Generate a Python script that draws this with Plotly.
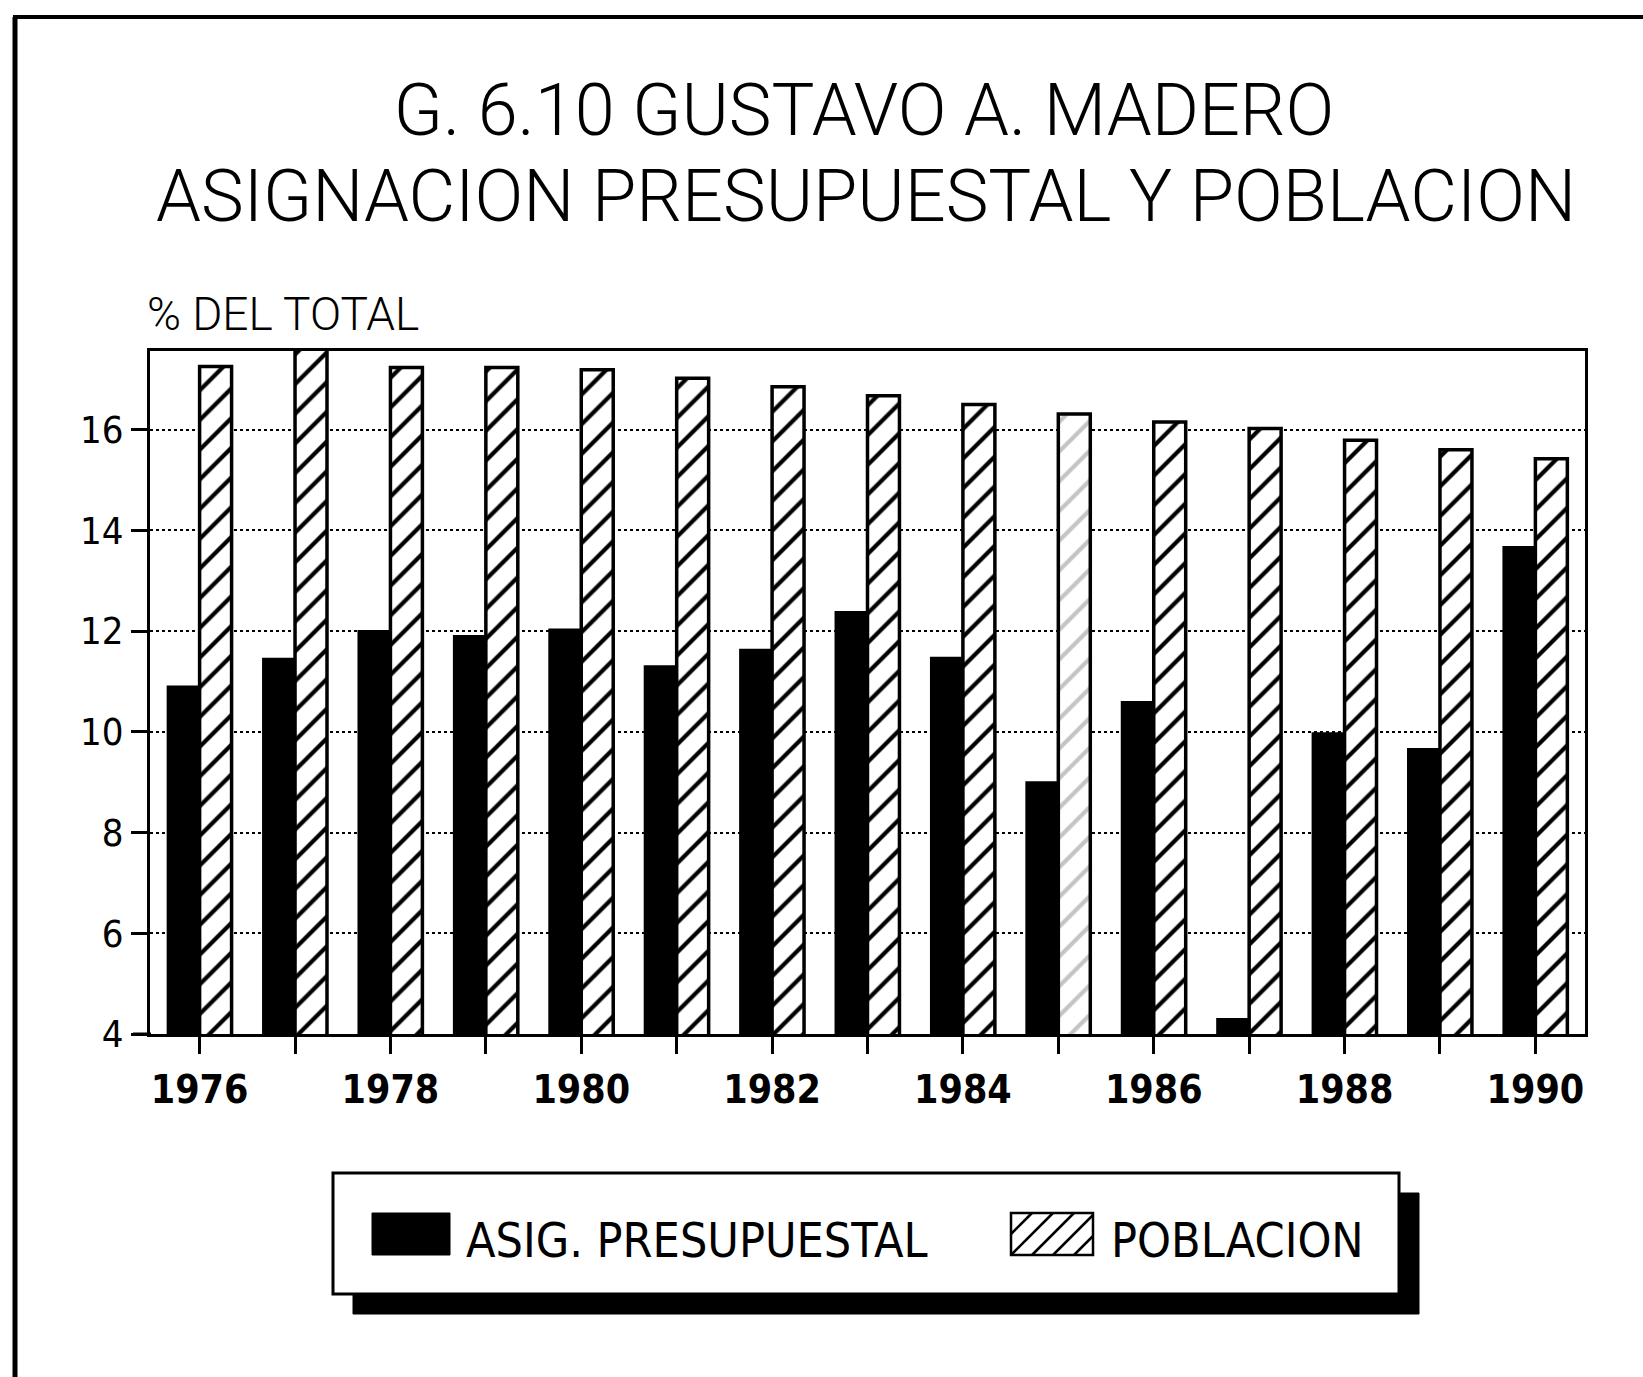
import plotly.graph_objects as go

# ---- data ----
years = [1976, 1977, 1978, 1979, 1980, 1981, 1982, 1983, 1984, 1985, 1986, 1987, 1988, 1989, 1990]
asig_presupuestal = [10.9, 11.45, 12.0, 11.9, 12.03, 11.3, 11.63, 12.38, 11.47, 9.0, 10.59, 4.3, 9.97, 9.66, 13.67]
poblacion = [17.25, 17.6, 17.23, 17.23, 17.19, 17.02, 16.85, 16.67, 16.5, 16.31, 16.15, 16.02, 15.79, 15.6, 15.42]
x_tick_labels = ["1976", "", "1978", "", "1980", "", "1982", "", "1984", "", "1986", "", "1988", "", "1990"]
y_ticks = [4, 6, 8, 10, 12, 14, 16]

title_line1 = "G. 6.10 GUSTAVO A. MADERO"
title_line2 = "ASIGNACION PRESUPUESTAL Y POBLACION"
y_title = "% DEL TOTAL"
series_names = ["ASIG. PRESUPUESTAL", "POBLACION"]

# ---- layout geometry (pixels) ----
W, H = 1643, 1377
PL, PR, PT, PB = 150, 1585, 351, 1034
PW, PH = PR - PL, PB - PT


def xp(px):
    return (px - PL) / PW


def yp(py):
    return (PB - py) / PH


NARROW = "Liberation Sans Narrow, DejaVu Sans Condensed, Liberation Sans, Arial, sans-serif"
THIN = "Roboto, Liberation Sans, Arial, sans-serif"

hatch_colors = ["#c4c4c4" if y == 1985 else "black" for y in years]

fig = go.Figure()
fig.add_trace(go.Bar(
    x=years, y=asig_presupuestal, name=series_names[0],
    marker=dict(color="black", line=dict(color="black", width=2)),
    showlegend=False,
))
fig.add_trace(go.Bar(
    x=years, y=poblacion, name=series_names[1],
    marker=dict(color="white", line=dict(color="black", width=3.5),
                pattern=dict(shape="/", fgcolor=hatch_colors, bgcolor="white",
                             size=21, solidity=0.2, fillmode="replace", fgopacity=1)),
    showlegend=False,
))

shapes = []
# outer frame (left and top edge of scanned page)
shapes.append(dict(type="line", xref="paper", yref="paper",
                   x0=xp(15), x1=xp(15), y0=yp(17), y1=yp(H + 5),
                   line=dict(color="black", width=5)))
shapes.append(dict(type="line", xref="paper", yref="paper",
                   x0=xp(13), x1=xp(W + 5), y0=yp(17), y1=yp(17),
                   line=dict(color="black", width=4)))
# baseline stub extending left of the y axis
shapes.append(dict(type="line", xref="paper", yref="paper",
                   x0=xp(133), x1=xp(151), y0=0, y1=0,
                   line=dict(color="black", width=3)))

# legend box with shadow
LX0, LX1, LY0, LY1 = 333, 1399, 1173, 1294
SH = 20
shapes.append(dict(type="rect", xref="paper", yref="paper",
                   x0=xp(LX0 + SH), x1=xp(LX1 + SH), y0=yp(LY0 + SH), y1=yp(LY1 + SH),
                   fillcolor="black", line=dict(color="black", width=1)))
shapes.append(dict(type="rect", xref="paper", yref="paper",
                   x0=xp(LX0), x1=xp(LX1), y0=yp(LY0), y1=yp(LY1),
                   fillcolor="white", line=dict(color="black", width=3)))
# black swatch
shapes.append(dict(type="rect", xref="paper", yref="paper",
                   x0=xp(372), x1=xp(450), y0=yp(1213), y1=yp(1255),
                   fillcolor="black", line=dict(color="black", width=1)))
# hatched swatch
SX0, SX1, SY0, SY1 = 1011, 1093, 1213, 1255
shapes.append(dict(type="rect", xref="paper", yref="paper",
                   x0=xp(SX0), x1=xp(SX1), y0=yp(SY0), y1=yp(SY1),
                   fillcolor="white", line=dict(color="black", width=2.5)))
hh = SY1 - SY0
for k in range(-hh, SX1 - SX0, 21):
    xa, ya = SX0 + k, SY1
    xb, yb = SX0 + k + hh, SY0
    if xa < SX0:
        ya = SY1 - (SX0 - xa)
        xa = SX0
    if xb > SX1:
        yb = SY0 + (xb - SX1)
        xb = SX1
    if xb <= xa:
        continue
    shapes.append(dict(type="line", xref="paper", yref="paper",
                       x0=xp(xa), x1=xp(xb), y0=yp(ya), y1=yp(yb),
                       line=dict(color="black", width=2.5)))

annotations = [
    dict(text=title_line2, xref="paper", yref="paper", x=xp(866), y=yp(197),
         xanchor="center", yanchor="middle", showarrow=False,
         font=dict(family=THIN, size=72, color="black", weight=300)),
    dict(text=y_title, xref="paper", yref="paper", x=xp(145), y=yp(314),
         xanchor="left", yanchor="middle", showarrow=False,
         font=dict(family=THIN, size=46, color="black", weight=300)),
    dict(text=series_names[0], xref="paper", yref="paper", x=xp(464), y=yp(1240),
         xanchor="left", yanchor="middle", showarrow=False,
         font=dict(family=NARROW, size=48, color="black")),
    dict(text=series_names[1], xref="paper", yref="paper", x=xp(1109), y=yp(1240),
         xanchor="left", yanchor="middle", showarrow=False,
         font=dict(family=NARROW, size=48, color="black")),
]

fig.update_layout(
    width=W, height=H,
    margin=dict(l=PL, r=W - PR, t=PT, b=H - PB, pad=0),
    paper_bgcolor="white", plot_bgcolor="white",
    barmode="group", bargap=0.33, bargroupgap=0.0,
    title=dict(text=title_line1, x=864 / W, xanchor="center",
               y=1 - 110 / H, yanchor="middle", yref="container",
               font=dict(family=THIN, size=72, color="black", weight=300)),
    shapes=shapes, annotations=annotations,
    showlegend=False,
)
fig.update_xaxes(
    range=[1975.48, 1990.52], tickmode="array", tickvals=years, ticktext=x_tick_labels,
    ticks="outside", ticklen=17, tickwidth=2.5, tickcolor="black",
    showline=True, linecolor="black", linewidth=3, mirror=True,
    showgrid=False, zeroline=False, ticklabelstandoff=2,
    tickfont=dict(family=NARROW, size=39, color="black", weight="bold"),
)
fig.update_yaxes(
    range=[4, 17.56], tickmode="array", tickvals=y_ticks,
    ticks="outside", ticklen=16, tickwidth=2.5, tickcolor="black",
    showline=True, linecolor="black", linewidth=3, mirror=True,
    showgrid=True, gridcolor="black", gridwidth=2, griddash="dot",
    zeroline=False, ticklabelstandoff=0,
    tickfont=dict(family=NARROW, size=38, color="black"),
)

fig.write_html("out.html", config={"displayModeBar": False},
               post_script="document.body.style.margin='0';document.body.style.overflow='hidden';")
